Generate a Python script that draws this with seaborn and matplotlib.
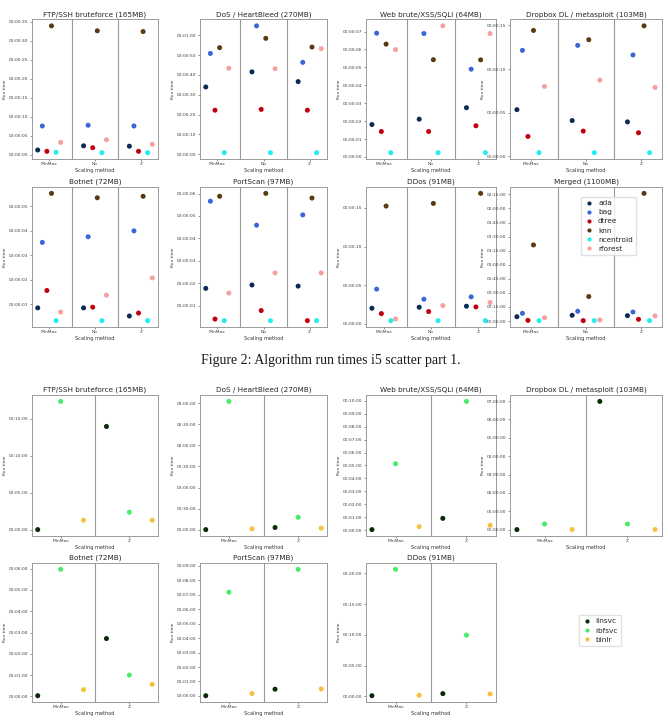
import numpy as np
import pandas as pd
import seaborn as sns
import matplotlib
matplotlib.use("Agg")
import matplotlib.pyplot as plt
import matplotlib.dates as mdates
from matplotlib.lines import Line2D

sns.set_style("white")

# Run times in seconds, one list per scaling method, hue order as in the algo lists

# --- Figure 2 (part 1): six classifiers, three scaling methods ---
top_scalings = ["MinMax", "No", "Z"]
top_algos = ["ada", "bag", "dtree", "knn", "ncentroid", "rforest"]
top_colors = ["#0b2b55", "#3a66d6", "#c00010", "#5a3a10", "#22eeee", "#f4a0a0"]

ftp_top = [[1.3, 7.6, 0.95, 33.9, 0.7, 3.3],
           [2.4, 7.8, 1.9, 32.6, 0.6, 4.0],
           [2.3, 7.6, 0.95, 32.4, 0.6, 2.8]]
dos_top = [[33.9, 50.8, 22.2, 53.7, 0.8, 43.3],
           [41.5, 64.7, 22.6, 58.4, 0.8, 43.1],
           [36.6, 46.3, 22.2, 54.0, 0.8, 53.2]]
web_top = [[1.81, 6.91, 1.42, 6.30, 0.24, 5.99],
           [2.11, 6.89, 1.42, 5.43, 0.24, 7.32],
           [2.75, 4.90, 1.74, 5.42, 0.24, 6.89]]
dropbox_top = [[5.35, 12.15, 2.28, 14.43, 0.42, 8.01],
               [4.10, 12.72, 2.89, 13.37, 0.42, 8.73],
               [3.95, 11.62, 2.70, 14.96, 0.42, 7.90]]
botnet_top = [[0.85, 3.52, 1.56, 5.52, 0.33, 0.68],
              [0.85, 3.75, 0.88, 5.34, 0.33, 1.37],
              [0.52, 3.99, 0.64, 5.40, 0.33, 2.07]]
portscan_top = [[1.77, 5.66, 0.40, 5.88, 0.33, 1.56],
                [1.92, 4.59, 0.78, 6.01, 0.33, 2.46],
                [1.87, 5.05, 0.33, 5.80, 0.33, 2.46]]
ddos_top = [[2.03, 4.50, 1.34, 15.22, 0.43, 0.65],
            [2.16, 3.20, 1.60, 15.56, 0.43, 2.38],
            [2.29, 3.50, 2.20, 16.86, 0.43, 2.77]]
merged_top = [[276, 492, 42, 4866, 24, 216],
              [366, 624, 24, 1566, 24, 66],
              [342, 576, 108, 8166, 24, 324]]

top_titles = ["FTP/SSH bruteforce (165MB)", "DoS / HeartBleed (270MB)",
              "Web brute/XSS/SQLi (64MB)", "Dropbox DL / metasploit (103MB)",
              "Botnet (72MB)", "PortScan (97MB)", "DDos (91MB)", "Merged (1100MB)"]
top_data = [ftp_top, dos_top, web_top, dropbox_top,
            botnet_top, portscan_top, ddos_top, merged_top]

# --- second figure: three SVM / LR models, two scaling methods ---
bot_scalings = ["MinMax", "Z"]
bot_algos = ["linsvc", "rbfsvc", "binlr"]
bot_colors = ["#0a2a0a", "#44ee66", "#f6c040"]

ftp_bot = [[3, 1041, 79], [838, 144, 79]]
dos_bot = [[18, 10944, 84], [198, 1062, 144]]
web_bot = [[3, 308, 17], [55, 597, 23]]
dropbox_bot = [[20, 1116, 40], [25128, 1116, 40]]
botnet_bot = [[2, 358, 19], [163, 60, 34]]
portscan_bot = [[1, 431, 10], [28, 526, 29]]
ddos_bot = [[6, 1239, 10], [26, 597, 23]]

bot_titles = top_titles[:7]
bot_data = [ftp_bot, dos_bot, web_bot, dropbox_bot, botnet_bot, portscan_bot, ddos_bot]

caption = "Figure 2: Algorithm run times i5 scatter part 1."

W, H = 668, 725
fig = plt.figure(figsize=(W / 100, H / 100), dpi=100)


def add_ax(l, t, r, b):
    return fig.add_axes([l / W, 1 - b / H, (r - l) / W, (b - t) / H])


def panel(ax, title, values, scalings, algos, colors, step):
    n = len(algos)
    rows = []
    for si, s in enumerate(scalings):
        for ai, a in enumerate(algos):
            rows.append({"scaling": s, "algo": a,
                         "x": si + (ai - (n - 1) / 2) * step,
                         "runtime": values[si][ai] / 86400.0})
    df = pd.DataFrame(rows)
    sns.scatterplot(data=df, x="x", y="runtime", hue="algo", hue_order=algos,
                    palette=colors, s=13, linewidth=0, ax=ax, legend=False)
    for v in np.arange(0.5, len(scalings) - 1):
        ax.axvline(v, color="0.6", lw=0.8, zorder=0)
    ax.set_xticks(range(len(scalings)))
    ax.set_xticklabels(scalings)
    ax.yaxis.set_major_locator(mdates.AutoDateLocator())
    ax.yaxis.set_major_formatter(mdates.DateFormatter("%H:%M:%S"))
    ax.set_title(title, fontsize=5.2, pad=2.5, color="0.15")
    ax.set_xlabel("Scaling method", fontsize=3.6, labelpad=1, color="0.2")
    ax.set_ylabel("Run time", fontsize=3.2, labelpad=1.5, color="0.2")
    ax.tick_params(axis="both", labelsize=3.2, length=1.5, width=0.4, pad=1,
                   colors="0.25", left=True, bottom=True)
    for sp in ax.spines.values():
        sp.set_color("0.55")
        sp.set_linewidth(0.6)


legend_kw = dict(loc="upper left", borderaxespad=0, fontsize=5.3, handlelength=1.2,
                 handletextpad=0.6, frameon=True, edgecolor="0.85", fancybox=True,
                 labelspacing=0.4, borderpad=0.45)

cols = [(32, 158), (200, 327), (366, 496), (510, 662)]
top_rows = [(19.5, 159), (187, 327)]
bot_rows = [(395, 536), (563, 702)]

for i, (title, vals) in enumerate(zip(top_titles, top_data)):
    l, r = cols[i % 4]
    t, b = top_rows[i // 4]
    ax = add_ax(l, t, r, b)
    panel(ax, title, vals, top_scalings, top_algos, top_colors, 0.1)
    if i == 7:
        handles = [Line2D([], [], marker="o", ls="", color=c, markersize=3,
                          markeredgewidth=0) for c in top_colors]
        ax.legend(handles, top_algos, bbox_to_anchor=(0.47, 0.93), **legend_kw)

for i, (title, vals) in enumerate(zip(bot_titles, bot_data)):
    l, r = cols[i % 4]
    t, b = bot_rows[i // 4]
    ax = add_ax(l, t, r, b)
    panel(ax, title, vals, bot_scalings, bot_algos, bot_colors, 1 / 3)

handles = [Line2D([], [], marker="o", ls="", color=c, markersize=3,
                  markeredgewidth=0) for c in bot_colors]
fig.legend(handles, bot_algos, bbox_to_anchor=(579 / W, 1 - 615 / H), **legend_kw)

fig.text(331 / W, 1 - 361 / H, caption, ha="center", va="center",
         family="Liberation Serif", fontsize=10, color="0.1")

fig.savefig("out.png", dpi=100)
